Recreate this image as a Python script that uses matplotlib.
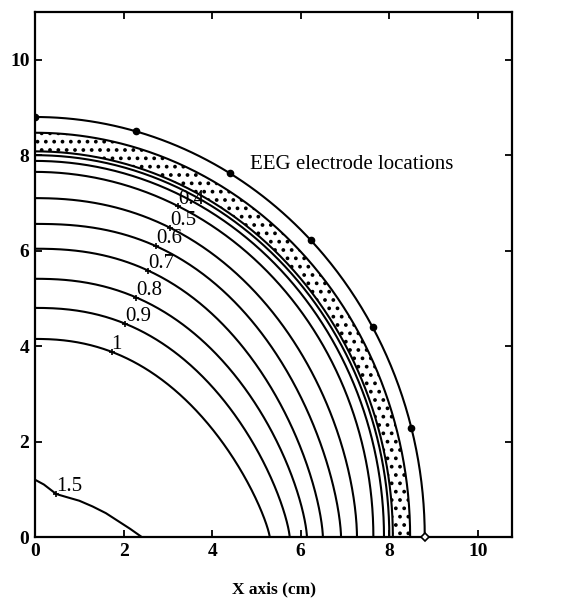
import numpy as np
import matplotlib
matplotlib.use("Agg")
import matplotlib.pyplot as plt
from matplotlib.patches import Wedge

# ---------------- data ----------------
# potential contours: level, label, y-axis intercept, x-axis intercept
contour_levels = [1.0, 0.9, 0.8, 0.7, 0.6, 0.5, 0.4, 0.3]
contour_labels = ["1", "0.9", "0.8", "0.7", "0.6", "0.5", "0.4", ""]
contour_y_icpt = [4.15, 4.80, 5.41, 6.04, 6.56, 7.10, 7.65, 7.88]
contour_x_icpt = [5.30, 5.75, 6.14, 6.50, 6.91, 7.27, 7.64, 7.88]
contour_p_exp = [2.25, 2.3, 2.3, 2.35, 2.4, 2.2, 2.0, 2.0]
contour_q_exp = [1.25, 1.35, 1.45, 1.5, 1.55, 1.75, 2.0, 2.0]
label_x = [1.73, 2.03, 2.29, 2.56, 2.73, 3.05, 3.24, None]

# innermost contour (1.5) traced points
c15_label = "1.5"
c15_x = [0.0, 0.2, 0.48, 0.7, 1.0, 1.3, 1.6, 1.9, 2.15, 2.41]
c15_y = [1.2, 1.1, 0.9, 0.84, 0.76, 0.64, 0.5, 0.32, 0.17, 0.0]
c15_label_idx = 2

# tissue boundaries (cm)
brain_r = 8.0
skull_inner_r = 8.08
skull_outer_r = 8.47
scalp_r = 8.8

# electrode angles (deg) on scalp
electrode_deg = [90, 75, 60, 45, 30, 15, 0]

xticks = [0, 2, 4, 6, 8, 10]
yticks = [0, 2, 4, 6, 8, 10]

# ---------------- drawing ----------------
serif = ["Liberation Serif", "DejaVu Serif"]
plt.rcParams["font.family"] = serif
plt.rcParams["hatch.linewidth"] = 1.5

fig = plt.figure(figsize=(5.61, 6.11), dpi=100)
ax = fig.add_axes([35 / 561, 1 - 537 / 611, 477 / 561, 525 / 611])
ax.set_xlim(0, 10.77)
ax.set_ylim(0, 11)

t = np.linspace(0, np.pi / 2, 300)
lw = 1.5

for lev, lab, a, b, p, q, lx in zip(contour_levels, contour_labels, contour_y_icpt,
                                    contour_x_icpt, contour_p_exp, contour_q_exp, label_x):
    xs = b * np.cos(t) ** (2.0 / p)
    ys = a * np.sin(t) ** (2.0 / q)
    ax.plot(xs, ys, color="black", lw=lw, solid_capstyle="butt")
    if lab and lx is not None:
        ly = a * (1 - (lx / b) ** p) ** (1.0 / q)
        ax.plot([lx], [ly], marker="+", color="black", ms=5, mew=1.2)
        ax.text(lx, ly - 0.05, lab, ha="left", va="bottom", fontsize=15)

ax.plot(c15_x, c15_y, color="black", lw=lw)
ax.plot([c15_x[c15_label_idx]], [c15_y[c15_label_idx]], marker="+", color="black", ms=5, mew=1.2)
ax.text(c15_x[c15_label_idx], c15_y[c15_label_idx] - 0.05, c15_label, ha="left", va="bottom",
        fontsize=15)

# stippled skull
ax.add_patch(Wedge((0, 0), skull_outer_r, 0, 90, width=skull_outer_r - skull_inner_r,
                   facecolor="none", edgecolor="black", linewidth=0, hatch=".."))
for r in [brain_r, skull_inner_r, skull_outer_r, scalp_r]:
    ax.plot(r * np.cos(t), r * np.sin(t), color="black", lw=lw)

# electrodes
for d in electrode_deg:
    ex = scalp_r * np.cos(np.radians(d))
    ey = scalp_r * np.sin(np.radians(d))
    if d == 0:
        ax.plot([ex], [ey], marker="D", ms=4.5, mfc="white", mec="black", mew=1.2,
                clip_on=False, zorder=5)
    else:
        ax.plot([ex], [ey], marker="o", ms=4.5, color="black", zorder=5)

ax.text(4.85, 7.8, "EEG electrode locations", fontsize=15, ha="left", va="center")

ax.set_xticks(xticks)
ax.set_yticks(yticks)
ax.tick_params(direction="in", top=True, right=True, length=5, width=1.3, pad=4)
for lbl in ax.get_xticklabels() + ax.get_yticklabels():
    lbl.set_fontsize(14)
    lbl.set_fontweight("bold")
for s in ax.spines.values():
    s.set_linewidth(1.6)

ax.set_xlabel("X axis (cm)", fontsize=12.5, fontweight="bold", labelpad=16)

fig.savefig("out.png", dpi=100)
